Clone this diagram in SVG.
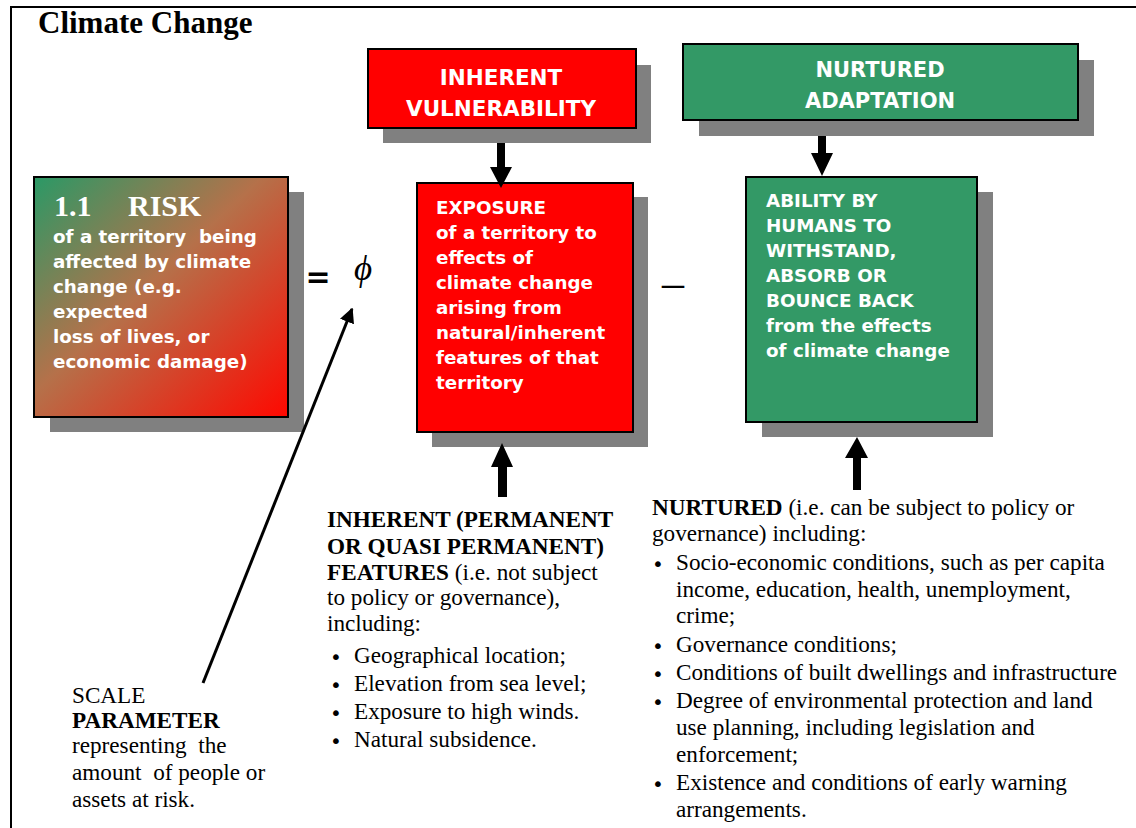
<svg xmlns="http://www.w3.org/2000/svg" width="1136" height="828" viewBox="0 0 1136 828">
<defs>
<linearGradient id="riskGrad" x1="0" y1="0" x2="1" y2="1">
<stop offset="0" stop-color="#2a9966"/>
<stop offset="0.45" stop-color="#b5714a"/>
<stop offset="1" stop-color="#ff0800"/>
</linearGradient>
<marker id="arrowHead" viewBox="0 0 10 10" refX="9" refY="5" markerWidth="5" markerHeight="5" orient="auto">
<path d="M0,0 L10,5 L0,10 z" fill="#000"/>
</marker>
<style>
.shadow{fill:#808080}
.box{stroke:#000;stroke-width:2}
.red{fill:#ff0000}
.green{fill:#339966}
.bt{font-family:"DejaVu Sans",Verdana,sans-serif;font-weight:bold;fill:#fff;font-size:18.3px}
.bh{font-family:"DejaVu Sans",Verdana,sans-serif;font-weight:bold;fill:#fff;font-size:21.5px;text-anchor:middle}
.tx{font-family:"Liberation Serif","Times New Roman",serif;font-size:23.2px;fill:#000;white-space:pre}
.b{font-weight:bold}
.bul{font-family:"DejaVu Sans",sans-serif;font-size:20px}
.blk{fill:#000}
</style>
</defs>
<rect x="11" y="7" width="1140" height="830" fill="none" stroke="#000" stroke-width="2"/>
<text x="38" y="33" font-family="Liberation Serif,'Times New Roman',serif" font-weight="bold" font-size="31">Climate Change</text>

<g id="risk">
<rect class="shadow" x="50" y="192" width="254" height="240"/>
<rect class="box" x="34" y="177" width="254" height="240" fill="url(#riskGrad)"/>
<text x="54" y="216" font-family="Liberation Serif,'Times New Roman',serif" font-weight="bold" font-size="30" fill="#fff">1.1</text>
<text x="128" y="216" font-family="Liberation Serif,'Times New Roman',serif" font-weight="bold" font-size="30" fill="#fff">RISK</text>
<text class="bt" style="white-space:pre"><tspan x="53" y="243">of a territory  being</tspan><tspan x="53" y="268">affected by climate</tspan><tspan x="53" y="293">change (e.g.</tspan><tspan x="53" y="318">expected</tspan><tspan x="53" y="343">loss of lives, or</tspan><tspan x="53" y="368">economic damage)</tspan></text>
</g>

<g id="inherent-vulnerability">
<rect class="shadow" x="383" y="65" width="268" height="78"/>
<rect class="box red" x="368" y="49" width="268" height="79"/>
<text class="bh"><tspan x="501" y="85">INHERENT</tspan><tspan x="501" y="116">VULNERABILITY</tspan></text>
</g>

<g id="nurtured-adaptation">
<rect class="shadow" x="699" y="60" width="395" height="76"/>
<rect class="box green" x="683" y="44" width="395" height="76"/>
<text class="bh" style="font-size:21px"><tspan x="880" y="77">NURTURED</tspan><tspan x="880" y="108">ADAPTATION</tspan></text>
</g>

<g id="exposure">
<rect class="shadow" x="432" y="197" width="216" height="250"/>
<rect class="box red" x="417" y="183" width="216" height="249"/>
<text class="bt"><tspan x="436" y="214">EXPOSURE</tspan><tspan x="436" y="239">of a territory to</tspan><tspan x="436" y="264">effects of</tspan><tspan x="436" y="289">climate change</tspan><tspan x="436" y="314">arising from</tspan><tspan x="436" y="339">natural/inherent</tspan><tspan x="436" y="364">features of that</tspan><tspan x="436" y="389">territory</tspan></text>
</g>

<g id="ability">
<rect class="shadow" x="762" y="192" width="231" height="245"/>
<rect class="box green" x="746" y="177" width="231" height="245"/>
<text class="bt"><tspan x="766" y="207">ABILITY BY</tspan><tspan x="766" y="232">HUMANS TO</tspan><tspan x="766" y="257">WITHSTAND,</tspan><tspan x="766" y="282">ABSORB OR</tspan><tspan x="766" y="307">BOUNCE BACK</tspan><tspan x="766" y="332">from the effects</tspan><tspan x="766" y="357">of climate change</tspan></text>
</g>

<g id="operators">
<text x="318" y="287" font-family="DejaVu Sans,sans-serif" font-weight="bold" font-size="30" text-anchor="middle">=</text>
<text x="354" y="280" font-family="Liberation Serif,'Times New Roman',serif" font-style="italic" font-size="35">ϕ</text>
<text x="662" y="297" font-family="Liberation Serif,'Times New Roman',serif" font-size="44">–</text>
</g>

<g id="inherent-features">
<text class="tx"><tspan x="327" y="527" class="b">INHERENT (PERMANENT</tspan><tspan x="327" y="554" class="b">OR QUASI PERMANENT)</tspan><tspan x="327" y="580"><tspan class="b">FEATURES</tspan> (i.e. not subject</tspan><tspan x="327" y="605">to policy or governance),</tspan><tspan x="327" y="631">including:</tspan></text>
<text class="tx"><tspan x="330" y="664" class="bul">•</tspan><tspan x="354" y="663">Geographical location;</tspan><tspan x="330" y="692" class="bul">•</tspan><tspan x="354" y="691">Elevation from sea level;</tspan><tspan x="330" y="720" class="bul">•</tspan><tspan x="354" y="719">Exposure to high winds.</tspan><tspan x="330" y="748" class="bul">•</tspan><tspan x="354" y="747">Natural subsidence.</tspan></text>
</g>

<g id="nurtured-factors">
<text class="tx"><tspan x="652" y="515"><tspan class="b">NURTURED</tspan> (i.e. can be subject to policy or</tspan><tspan x="652" y="541">governance) including:</tspan></text>
<text class="tx"><tspan x="652" y="571" class="bul">•</tspan><tspan x="676" y="570">Socio-economic conditions, such as per capita</tspan><tspan x="676" y="597">income, education, health, unemployment,</tspan><tspan x="676" y="623">crime;</tspan><tspan x="652" y="653" class="bul">•</tspan><tspan x="676" y="652">Governance conditions;</tspan><tspan x="652" y="681" class="bul">•</tspan><tspan x="676" y="680">Conditions of built dwellings and infrastructure</tspan><tspan x="652" y="709" class="bul">•</tspan><tspan x="676" y="708">Degree of environmental protection and land</tspan><tspan x="676" y="735">use planning, including legislation and</tspan><tspan x="676" y="762">enforcement;</tspan><tspan x="652" y="791" class="bul">•</tspan><tspan x="676" y="790">Existence and conditions of early warning</tspan><tspan x="676" y="817">arrangements.</tspan></text>
</g>

<g id="scale-parameter">
<text class="tx"><tspan x="72" y="703">SCALE</tspan><tspan x="72" y="728" class="b">PARAMETER</tspan><tspan x="72" y="753">representing  the</tspan><tspan x="72" y="780">amount  of people or</tspan><tspan x="72" y="807">assets at risk.</tspan></text>
</g>

<g id="connectors">
<polygon class="blk" points="497,143 505,143 505,167 512,167 501,188 490,167 497,167"/>
<polygon class="blk" points="818,136 826,136 826,153 833,153 822,176 811,153 818,153"/>
<polygon class="blk" points="502,443 513,467 507,467 507,497 498,497 498,467 491,467"/>
<polygon class="blk" points="857,437 868,458 861,458 861,490 853,490 853,458 845,458"/>
<line x1="203" y1="683" x2="352" y2="309" stroke="#000" stroke-width="3" marker-end="url(#arrowHead)"/>
</g>
</svg>
